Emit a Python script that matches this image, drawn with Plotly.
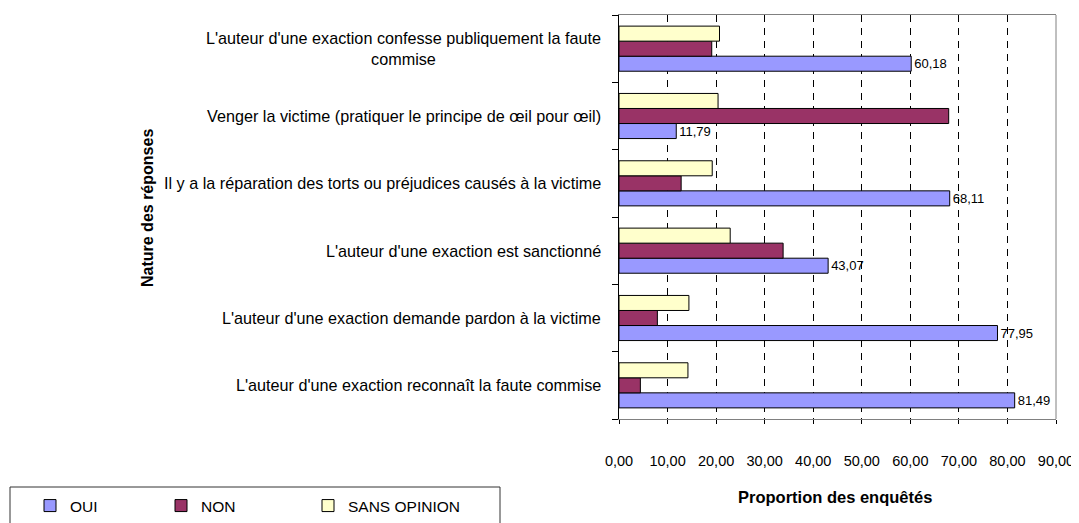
import plotly.graph_objects as go

# Categories listed bottom-to-top as they appear on the chart
categories = [
    "L'auteur d'une exaction reconnaît la faute commise",
    "L'auteur d'une exaction demande pardon à la victime",
    "L'auteur d'une exaction est sanctionné",
    "Il y a la réparation des torts ou préjudices causés à la victime",
    "Venger la victime (pratiquer le principe de œil pour œil)",
    "L'auteur d'une exaction confesse publiquement la faute<br>commise",
]
oui = [81.49, 77.95, 43.07, 68.11, 11.79, 60.18]
non = [4.4, 7.9, 33.8, 12.8, 67.9, 19.1]
sans_opinion = [14.2, 14.4, 22.9, 19.2, 20.4, 20.7]

series_names = ["OUI", "NON", "SANS OPINION"]
x_ticks = [0, 10, 20, 30, 40, 50, 60, 70, 80, 90]
x_title = "Proportion des enquêtés"
y_title = "Nature des réponses"

FONT = "Liberation Sans, Arial, sans-serif"
colors = ["#9999FF", "#993366", "#FFFFCC"]
legend_ids = ["legend", "legend2", "legend3"]
legend_left_px = [22, 153, 300]

# the page body adds an 8px margin, so the figure is slightly smaller
W, H = 1071, 515

fig = go.Figure()
for i, (name, vals) in enumerate(zip(series_names, [oui, non, sans_opinion])):
    kw = {}
    if name == "OUI":
        kw = dict(texttemplate="%{x:.2f}", textposition="outside",
                  textfont=dict(family=FONT, size=13, color="black"),
                  constraintext="none", cliponaxis=False)
    fig.add_trace(go.Bar(
        y=categories, x=vals, orientation="h", name=name, legend=legend_ids[i],
        marker=dict(color=colors[i], line=dict(color="black", width=1)),
        **kw))

legend_common = dict(orientation="h", xref="container", yref="container",
                     xanchor="left", yanchor="middle",
                     font=dict(family=FONT, size=15.5, color="black"),
                     bgcolor="rgba(0,0,0,0)", borderwidth=0)
legend_layout = {}
for lid, lx in zip(legend_ids, legend_left_px):
    legend_layout[lid] = dict(legend_common, x=lx / W, y=1 - 498 / H)

fig.update_layout(
    width=W, height=H,
    margin=dict(l=611, r=23, t=7, b=104, autoexpand=False),
    paper_bgcolor="white", plot_bgcolor="white",
    separators=", ",
    barmode="group", bargap=0.33, bargroupgap=0,
    font=dict(family=FONT, size=16, color="black"),
    showlegend=True,
    **legend_layout,
)

fig.update_xaxes(
    range=[0, 90], tickvals=x_ticks, tickformat=".2f",
    tickfont=dict(family=FONT, size=14.5, color="black"),
    ticklabelstandoff=25,
    showline=True, linecolor="#808080", linewidth=1, mirror=True,
    ticks="outside", ticklen=4, tickcolor="black",
    showgrid=True, gridcolor="black", gridwidth=1, griddash="7px,6px",
    zeroline=False,
)
fig.update_yaxes(
    type="category", categoryorder="array", categoryarray=categories,
    showticklabels=False, tickson="boundaries",
    ticks="outside", ticklen=6, tickcolor="black",
    showline=True, linecolor="black", linewidth=1,
    showgrid=False, zeroline=False,
)

# category labels (centred multi-line text)
for c in categories:
    fig.add_annotation(x=0, xref="paper", y=c, yref="y", text=c, showarrow=False,
                       xanchor="right", xshift=-16, align="center",
                       font=dict(family=FONT, size=16.2, color="black"))

# x-axis title
fig.add_annotation(x=(834.5 - 619) / 437, xref="paper", y=(419 - 497) / 404, yref="paper",
                   text="<b>" + x_title + "</b>", showarrow=False,
                   xanchor="center", yanchor="middle",
                   font=dict(family=FONT, size=16.5, color="black"))
# y-axis title
fig.add_annotation(x=(147 - 619) / 437, xref="paper", y=(419 - 208) / 404, yref="paper",
                   text="<b>" + y_title + "</b>",
                   showarrow=False, textangle=-90, xanchor="center", yanchor="middle",
                   font=dict(family=FONT, size=16, color="black"))

# right border of plot area
fig.add_shape(type="line", xref="paper", yref="paper", x0=1, x1=1, y0=0, y1=1,
              line=dict(color="#808080", width=1), layer="above")
# legend frame
fig.add_shape(type="rect", xref="paper", yref="paper",
              x0=(10 - 619) / 437, x1=(500 - 619) / 437,
              y0=(419 - 487) / 404, y1=(419 - 540) / 404,
              line=dict(color="#333333", width=1), fillcolor="rgba(0,0,0,0)", layer="above")

fig.write_html("out.html")
